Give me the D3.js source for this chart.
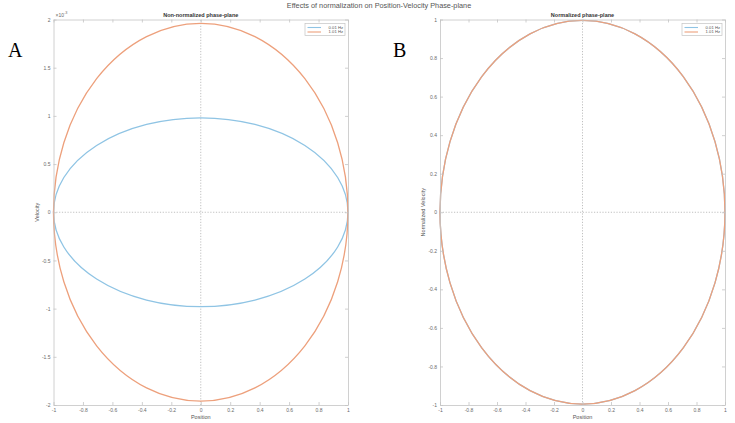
<!DOCTYPE html>
<html>
<head>
<meta charset="utf-8">
<script src="https://cdn.jsdelivr.net/npm/d3@7/dist/d3.min.js"></script>
<style>
  html, body { margin: 0; padding: 0; background: #fff; }
  svg { display: block; font-family: "Liberation Sans", Arial, Helvetica, sans-serif; }
</style>
</head>
<body>
<svg id="fig" width="735" height="423"></svg>
<script>
// Phase-plane series: one ellipse per driving frequency
const seriesNames = ["0.01 Hz", "1.01 Hz"];
const seriesColors = ["#8fc4e4", "#eda07c"];
const positionAmplitude = [1, 1];
const velocityAmplitude = [0.98e-3, 1.96e-3];          // raw velocity
const normalizedVelocityAmplitude = [0.995, 0.995];    // velocity / max(velocity)

// Axis ticks
const xTicks = [-1, -0.8, -0.6, -0.4, -0.2, 0, 0.2, 0.4, 0.6, 0.8, 1];
const yTicksRaw = [-2e-3, -1.5e-3, -1e-3, -0.5e-3, 0, 0.5e-3, 1e-3, 1.5e-3, 2e-3];
const yTicksNorm = [-1, -0.8, -0.6, -0.4, -0.2, 0, 0.2, 0.4, 0.6, 0.8, 1];

const svg = d3.select("#fig");
svg.append("rect").attr("width", 735).attr("height", 423).attr("fill", "#fff");

const fmt = d => String(+d.toFixed(1));

function panel(opts) {
  const { left, right, top, bottom, yDomain, yTicks, yFmt, amps, title, yLabel, legendX, exponent } = opts;
  const x = d3.scaleLinear().domain([-1, 1]).range([left, right]);
  const y = d3.scaleLinear().domain(yDomain).range([bottom, top]);
  const g = svg.append("g");

  // zero reference lines
  g.append("line").attr("x1", x(0)).attr("x2", x(0)).attr("y1", y(yDomain[0])).attr("y2", y(yDomain[1]))
    .attr("stroke", "#b0b0b0").attr("stroke-width", 0.8).attr("stroke-dasharray", "1.2,1.6");
  g.append("line").attr("x1", x(-1)).attr("x2", x(1)).attr("y1", y(0)).attr("y2", y(0))
    .attr("stroke", "#b0b0b0").attr("stroke-width", 0.8).attr("stroke-dasharray", "1.2,1.6");

  // ellipses
  seriesNames.forEach((name, i) => {
    g.append("ellipse")
      .attr("cx", x(0)).attr("cy", y(0))
      .attr("rx", x(positionAmplitude[i]) - x(0))
      .attr("ry", y(0) - y(amps[i]))
      .attr("fill", "none")
      .attr("stroke", seriesColors[i])
      .attr("stroke-width", 1.3);
  });

  // axes: ticks point inward, labels only on bottom and left
  const axisColor = "#c4c4c4";
  const style = sel => {
    sel.select(".domain").attr("stroke", axisColor).attr("stroke-width", 0.8);
    sel.selectAll(".tick line").attr("stroke", axisColor).attr("stroke-width", 0.8);
    sel.selectAll("text").attr("fill", "#6a6a6a").attr("font-size", 5);
  };
  g.append("g").attr("transform", `translate(0,${bottom})`)
    .call(d3.axisBottom(x).tickValues(xTicks).tickFormat(fmt).tickSizeInner(-3).tickSizeOuter(0).tickPadding(3))
    .call(style);
  g.append("g").attr("transform", `translate(0,${top})`)
    .call(d3.axisTop(x).tickValues(xTicks).tickFormat("").tickSizeInner(-3).tickSizeOuter(0))
    .call(style);
  g.append("g").attr("transform", `translate(${left},0)`)
    .call(d3.axisLeft(y).tickValues(yTicks).tickFormat(yFmt).tickSizeInner(-3).tickSizeOuter(0).tickPadding(3))
    .call(style);
  g.append("g").attr("transform", `translate(${right},0)`)
    .call(d3.axisRight(y).tickValues(yTicks).tickFormat("").tickSizeInner(-3).tickSizeOuter(0))
    .call(style);

  // titles and labels
  g.append("text").attr("x", (left + right) / 2).attr("y", top - 3)
    .attr("text-anchor", "middle").attr("font-size", 5.5).attr("font-weight", "bold").attr("fill", "#333")
    .text(title);
  g.append("text").attr("x", (left + right) / 2).attr("y", bottom + 14)
    .attr("text-anchor", "middle").attr("font-size", 5.5).attr("fill", "#555").text("Position");
  g.append("text").attr("transform", `translate(${left - 15},${(top + bottom) / 2}) rotate(-90)`)
    .attr("text-anchor", "middle").attr("font-size", 5.5).attr("fill", "#555").text(yLabel);

  if (exponent) {
    const t = g.append("text").attr("x", left + 2).attr("y", top - 3).attr("font-size", 5).attr("fill", "#6a6a6a");
    t.append("tspan").text("\u00d710");
    t.append("tspan").attr("dy", -2.5).attr("font-size", 3.8).text(exponent);
  }

  // legend
  const lw = 40, lh = 12, ly = top + 4;
  const lg = g.append("g").attr("transform", `translate(${legendX},${ly})`);
  lg.append("rect").attr("width", lw).attr("height", lh).attr("fill", "#fff")
    .attr("stroke", "#c4c4c4").attr("stroke-width", 0.7);
  seriesNames.forEach((name, i) => {
    const yy = 4 + i * 4.5;
    lg.append("line").attr("x1", 2.5).attr("x2", 16).attr("y1", yy).attr("y2", yy)
      .attr("stroke", seriesColors[i]).attr("stroke-width", 1.1);
    lg.append("text").attr("x", lw - 2).attr("y", yy + 1.4).attr("text-anchor", "end")
      .attr("font-size", 4.2).attr("fill", "#555").text(name);
  });
}

panel({
  left: 53.5, right: 348, top: 19.5, bottom: 405,
  yDomain: [-2e-3, 2e-3], yTicks: yTicksRaw, yFmt: d => fmt(d / 1e-3),
  amps: velocityAmplitude, title: "Non-normalized phase-plane", yLabel: "Velocity",
  legendX: 305, exponent: "-3"
});
panel({
  left: 440, right: 725, top: 19.5, bottom: 405,
  yDomain: [-1, 1], yTicks: yTicksNorm, yFmt: fmt,
  amps: normalizedVelocityAmplitude, title: "Normalized phase-plane", yLabel: "Normalized Velocity",
  legendX: 682, exponent: null
});

// figure title
svg.append("text").attr("x", 379).attr("y", 8).attr("text-anchor", "middle")
  .attr("font-size", 7.3).attr("fill", "#555")
  .text("Effects of normalization on Position-Velocity Phase-plane");

// panel letters
svg.append("text").attr("x", 8).attr("y", 57).attr("font-family", "'Liberation Serif', 'Times New Roman', serif")
  .attr("font-size", 20).attr("fill", "#000").text("A");
svg.append("text").attr("x", 393).attr("y", 57).attr("font-family", "'Liberation Serif', 'Times New Roman', serif")
  .attr("font-size", 20).attr("fill", "#000").text("B");
</script>
</body>
</html>
